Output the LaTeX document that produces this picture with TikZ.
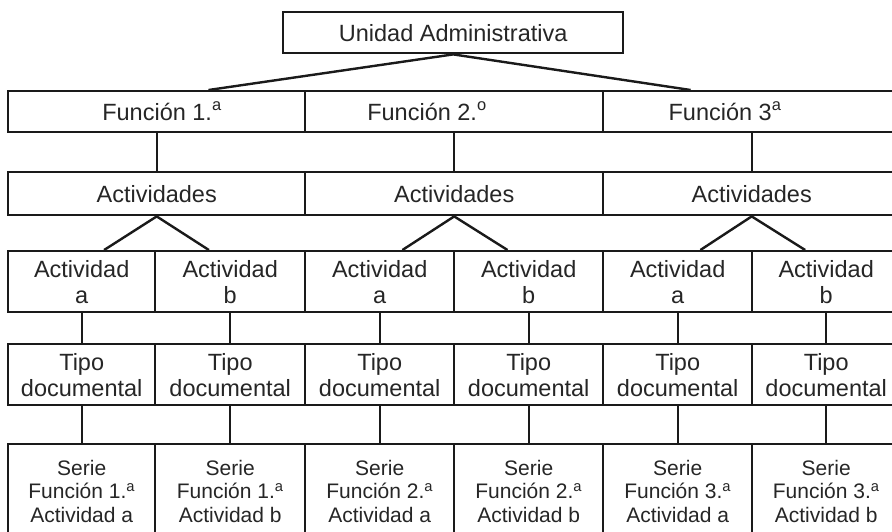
\documentclass[tikz,border=0pt]{standalone}
\usepackage{fontspec}
\setmainfont{Liberation Sans}
\usetikzlibrary{calc}
\definecolor{ink}{HTML}{1A1A1A}
\definecolor{txt}{HTML}{262626}
\begin{document}
\begin{tikzpicture}[x=1pt,y=-1pt,
  box/.style={draw=ink, line width=2.4pt, rectangle, inner sep=0pt,
    anchor=north west, align=center, text=txt,
    font=\fontsize{23.5}{26}\selectfont},
  small/.style={font=\fontsize{21}{23.5}\selectfont},
  lbl/.style={anchor=base, inner sep=0pt, text=txt,
    font=\fontsize{23.5}{26}\selectfont},
  link/.style={draw=ink, line width=2.4pt, line join=round}]
\clip (0,0) rectangle (892,531);
\fill[white] (0,0) rectangle (892,531);

% administrative unit
\node[box, minimum width=340pt, minimum height=41pt] (ua) at (282,11)
  {Unidad Administrativa};

% functions
\node[box, minimum width=297pt, minimum height=41pt] (f1) at (7,90) {};
\node[box, minimum width=298pt, minimum height=41pt] (f2) at (304,90) {};
\node[box, minimum width=297pt, minimum height=41pt] (f3) at (602,90) {};
\node[lbl] (f1t) at (162,120) {Función 1.\textsuperscript{a}};
\node[lbl] (f2t) at (427,120) {Función 2.\textsuperscript{o}};
\node[lbl] (f3t) at (725,120) {Función 3\textsuperscript{a}};

% activity groups
\node[box, minimum width=297pt, minimum height=43pt] (act1) at (7,171) {Actividades};
\node[box, minimum width=298pt, minimum height=43pt] (act2) at (304,171) {Actividades};
\node[box, minimum width=297pt, minimum height=43pt] (act3) at (602,171) {Actividades};

% activities, document types and series
\foreach \i/\x/\w/\l/\n in {1/7/147/a/1, 2/154/150/b/1, 3/304/149/a/2,
                            4/453/149/b/2, 5/602/149/a/3, 6/751/148/b/3} {
  \node[box, minimum width=\w pt, minimum height=61pt] (ac\i) at (\x,250)
    {Actividad\\\l};
  \node[box, minimum width=\w pt, minimum height=61pt] (tp\i) at (\x,343)
    {Tipo\\documental};
  \node[box, small, minimum width=\w pt, minimum height=94pt] (se\i) at (\x,443)
    {Serie\\Función \n.\textsuperscript{a}\\Actividad \l};
  \draw[link] (ac\i.south) -- (tp\i.north);
  \draw[link] (tp\i.south) -- (se\i.north);
}

% unit to functions
\draw[link] ($(f1.north west)!0.673!(f1.north east)$) -- (ua.south)
  -- ($(f3.north west)!0.296!(f3.north east)$);

% functions to activity groups
\foreach \k in {1,2,3} \draw[link] (f\k.south) -- (act\k.north);

% activity groups to activities
\foreach \k/\a/\b in {1/1/2, 2/3/4, 3/5/6}
  \draw[link] ($(ac\a.north west)!0.65!(ac\a.north east)$) -- (act\k.south)
    -- ($(ac\b.north west)!0.36!(ac\b.north east)$);
\end{tikzpicture}
\end{document}
